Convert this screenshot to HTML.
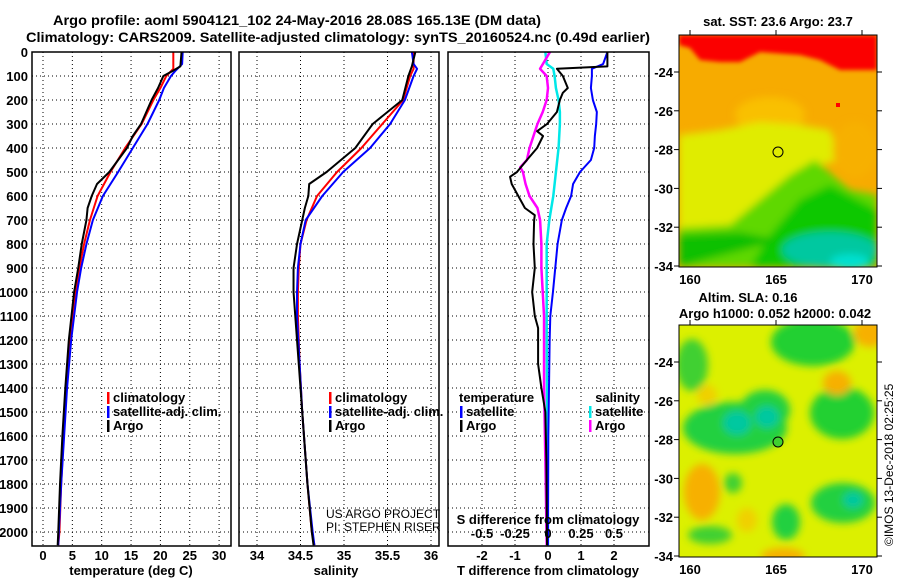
<!DOCTYPE html>
<html><head><meta charset="utf-8">
<style>
html,body{margin:0;padding:0;background:#fff;}
svg{display:block;font-family:"Liberation Sans",sans-serif;}
.t{font-weight:bold;font-size:13px;fill:#000;}
</style></head>
<body>
<svg id="fig" width="900" height="580" viewBox="0 0 900 580" xmlns="http://www.w3.org/2000/svg">
<defs>
<filter id="bl" x="-30%" y="-30%" width="160%" height="160%"><feGaussianBlur stdDeviation="4"/></filter>
<filter id="bl2" x="-30%" y="-30%" width="160%" height="160%"><feGaussianBlur stdDeviation="2"/></filter>
<clipPath id="c1"><rect x="679" y="35" width="198" height="232"/></clipPath>
<clipPath id="c2"><rect x="679" y="325" width="198" height="232"/></clipPath>
</defs>
<text x="53" y="25" style="font-weight:bold;font-size:14px" textLength="488" lengthAdjust="spacingAndGlyphs">Argo profile: aoml 5904121_102 24-May-2016 28.08S 165.13E (DM data)</text>
<text x="26" y="42" style="font-weight:bold;font-size:14px" textLength="624" lengthAdjust="spacingAndGlyphs">Climatology: CARS2009. Satellite-adjusted climatology: synTS_20160524.nc (0.49d earlier)</text>

<g id="plots"></g>

<!-- SST map -->
<g>
<g clip-path="url(#c1)">
<rect x="679" y="35" width="198" height="232" fill="#f7ab00"/>
<g filter="url(#bl2)">
<polygon points="679,35 877,35 877,70 840,70 820,60 800,55 760,52 740,62 720,62 700,60 690,48 679,45" fill="#fb0000"/>
</g>
<g filter="url(#bl)">
<ellipse cx="770" cy="115" rx="35" ry="18" fill="#f9c000"/>
<polygon points="679,135 720,130 760,122 800,125 830,130 840,160 820,165 800,175 780,190 760,210 730,225 679,228" fill="#e0ec00"/>
<polygon points="760,200 790,175 815,160 850,190 877,195 877,267 679,267 679,228 730,225" fill="#5fd800"/>
<polygon points="770,235 800,200 830,185 877,210 877,267 750,267" fill="#10c800"/>
<polygon points="679,235 740,232 780,240 679,267" fill="#10c000"/>
<ellipse cx="830" cy="250" rx="48" ry="18" fill="#00c8a0"/>
<ellipse cx="850" cy="262" rx="20" ry="8" fill="#00e0d0"/>
<ellipse cx="855" cy="150" rx="22" ry="28" fill="#f7b000"/>
</g>
<rect x="836" y="103" width="4" height="4" fill="#f00"/>
</g>
<rect x="679" y="35" width="198" height="232" fill="none" stroke="#000"/>
<circle cx="778" cy="152" r="5" fill="none" stroke="#000"/>
</g>

<!-- SLA map -->
<g>
<g clip-path="url(#c2)">
<rect x="679" y="325" width="198" height="232" fill="#dcf000"/>
<g filter="url(#bl)">
<ellipse cx="813" cy="342" rx="42" ry="24" fill="#20d030"/>
<ellipse cx="692" cy="365" rx="16" ry="26" fill="#40d030"/>
<ellipse cx="735" cy="428" rx="52" ry="26" fill="#20d040"/>
<ellipse cx="765" cy="410" rx="25" ry="20" fill="#20d040"/>
<ellipse cx="737" cy="423" rx="14" ry="12" fill="#00c8a0"/>
<ellipse cx="767" cy="417" rx="12" ry="11" fill="#00c8a0"/>
<ellipse cx="842" cy="413" rx="32" ry="26" fill="#20d030"/>
<ellipse cx="837" cy="383" rx="14" ry="12" fill="#f7b000"/>
<ellipse cx="870" cy="333" rx="16" ry="14" fill="#f7b000"/>
<ellipse cx="702" cy="492" rx="18" ry="28" fill="#f7b000"/>
<ellipse cx="843" cy="503" rx="32" ry="20" fill="#20d040"/>
<ellipse cx="853" cy="500" rx="10" ry="8" fill="#00c8a0"/>
<ellipse cx="786" cy="522" rx="14" ry="18" fill="#20d040"/>
<ellipse cx="710" cy="535" rx="22" ry="9" fill="#40d030"/>
<ellipse cx="733" cy="483" rx="9" ry="10" fill="#40d030"/>
<ellipse cx="783" cy="556" rx="22" ry="8" fill="#f7b000"/>
<ellipse cx="747" cy="520" rx="10" ry="12" fill="#f0d000"/>
<ellipse cx="707" cy="395" rx="10" ry="10" fill="#f0d000"/>
</g>
</g>
<rect x="679" y="325" width="198" height="232" fill="none" stroke="#000"/>
<circle cx="778" cy="442" r="5" fill="#40d030" stroke="#000"/>
</g>
<text class="t" x="778" y="26" text-anchor="middle">sat. SST: 23.6 Argo: 23.7</text>
<text class="t" x="748" y="302" text-anchor="middle">Altim. SLA: 0.16</text>
<text class="t" x="775" y="318" text-anchor="middle">Argo h1000: 0.052 h2000: 0.042</text>
<text x="0" y="0" style="font-size:12px" transform="translate(893,546) rotate(-90)">©IMOS 13-Dec-2018 02:25:25</text>
<g id="maps"></g>

<text x="326" y="518" style="font-size:12px">US ARGO PROJECT</text>
<text x="326" y="531" style="font-size:12px">PI: STEPHEN RISER</text>
</svg>
<script>
// ---- data ----
const tempClimDepth = [0,70,100,150,200,300,400,500,600,700,800,900,1000,1200,1400,1600,1800,2000,2055];
const tempClim      = [22.2,22.2,21,20,18.8,16.8,14,11.5,9.3,8,7,6.2,5.6,4.6,4,3.5,3.1,2.8,2.6];
const tempSatDepth  = [0,50,80,100,150,200,300,400,500,600,700,800,900,1000,1200,1400,1600,1800,2000,2055];
const tempSat       = [23.8,23.7,22.5,21.8,20.6,19.8,17.8,15.3,12.8,10.2,8.5,7.4,6.5,5.8,4.8,4.1,3.6,3.1,2.7,2.6];
const tempArgoDepth = [0,60,80,100,150,200,300,350,400,500,550,600,650,700,800,900,1000,1200,1400,1600,1800,2000,2055];
const tempArgo      = [23.6,23.4,22,20.5,19.6,18.5,16.7,15.3,14.3,11.3,9.2,8.3,7.6,7.4,6.6,6,5.3,4.4,3.8,3.3,2.9,2.6,2.5];
const salClimDepth  = [0,70,100,200,300,400,500,600,700,800,900,1000,1100,1300,1500,1800,2000,2055];
const salClim       = [35.8,35.8,35.76,35.68,35.44,35.2,34.92,34.69,34.57,34.5,34.48,34.47,34.47,34.49,34.52,34.58,34.63,34.66];
const salSatDepth   = [0,50,70,100,200,300,400,500,600,700,800,900,1000,1100,1300,1500,1800,2000,2055];
const salSat        = [35.78,35.8,35.84,35.8,35.7,35.53,35.3,34.99,34.75,34.56,34.5,34.47,34.46,34.46,34.49,34.52,34.58,34.64,34.66];
const salArgoDepth  = [0,60,100,200,300,400,500,550,600,650,700,800,900,1000,1100,1300,1500,1800,2000,2055];
const salArgo       = [35.82,35.78,35.74,35.67,35.33,35.13,34.8,34.6,34.59,34.55,34.52,34.46,34.42,34.42,34.44,34.48,34.52,34.58,34.63,34.65];
const dTSatDepth    = [0,50,70,100,150,200,250,300,350,400,450,500,550,600,650,700,800,900,1000,1100,1200,1400,1600,2055];
const dTSat         = [1.8,1.67,1.33,1.33,1.3,1.36,1.48,1.46,1.42,1.4,1.3,0.97,0.76,0.7,0.55,0.42,0.29,0.22,0.15,0.07,0.05,0.03,0.01,0];
const dTArgoDepth   = [0,60,70,100,150,170,200,250,300,330,350,400,450,500,520,550,600,650,680,700,800,900,1000,1100,1150,1300,1400,1500,1700,2055];
const dTArgo        = [1.8,1.8,0.27,0.45,0.6,0.45,0.36,0.27,-0.03,-0.33,-0.15,-0.33,-0.64,-0.94,-1.15,-1.1,-0.9,-0.7,-0.4,-0.42,-0.44,-0.4,-0.48,-0.4,-0.3,-0.3,-0.2,-0.08,-0.05,-0.03];
const dSSatDepth    = [0,50,70,100,150,200,250,300,400,450,500,600,700,800,900,1200,2055];
const dSSat         = [-0.02,-0.01,0.04,0.05,0.06,0.08,0.09,0.09,0.08,0.07,0.06,0.04,0.01,-0.01,-0.01,-0.01,0];
const dSArgoDepth   = [0,70,100,150,200,250,300,350,400,450,480,500,550,600,650,700,800,900,1000,1100,1400,1700,2055];
const dSArgo        = [0.015,-0.06,-0.01,0,-0.01,-0.04,-0.08,-0.11,-0.14,-0.16,-0.21,-0.19,-0.17,-0.14,-0.08,-0.06,-0.05,-0.05,-0.04,-0.03,-0.03,-0.02,-0.01];
const depthTicks    = [0,100,200,300,400,500,600,700,800,900,1000,1100,1200,1300,1400,1500,1600,1700,1800,1900,2000];
const tempTicks     = [0,5,10,15,20,25,30];
const salTicks      = [34,34.5,35,35.5,36];
const salTickLabels = ['34','34.5','35','35.5','36'];
const dTTicks       = [-2,-1,0,1,2];
const dSTicks       = [-0.5,-0.25,0,0.25,0.5];
const dSTickLabels  = ['-0.5','-0.25','0','0.25','0.5'];
const latTicks      = [-24,-26,-28,-30,-32,-34];
const lonTicks      = [160,165,170];

const NS='http://www.w3.org/2000/svg';
const plots=document.getElementById('plots');
function el(tag,attrs,parent,text){const e=document.createElementNS(NS,tag);for(const k in attrs)e.setAttribute(k,attrs[k]);if(text!==undefined)e.textContent=text;(parent||plots).appendChild(e);return e;}
const Y0=52, YS=0.24, YB=546;
const yD=d=>Y0+d*YS;
const xT=v=>43+v*5.87;
const xS=v=>257+(v-34)*87;
const xDT=v=>548+v*33;
const xDS=v=>548+v*132;
const panels=[{l:32,r:231},{l:239,r:439},{l:448,r:649}];

function grid(p,xs,fx){
  xs.forEach(v=>{const l=el('line',{x1:fx(v),x2:fx(v),y1:Y0,y2:YB,stroke:'#000','stroke-width':1,'stroke-dasharray':'1,3'});
    });
  depthTicks.forEach(d=>{const l=el('line',{x1:p.l,x2:p.r,y1:yD(d),y2:yD(d),stroke:'#000','stroke-width':1,'stroke-dasharray':'1,3'});
    });
}
grid(panels[0],tempTicks,xT);
grid(panels[1],salTicks,xS);
grid(panels[2],dTTicks,xDT);

function smooth(xs,ds,fx,color,w,name){
  const pts=xs.map((v,i)=>fx(v)+','+yD(ds[i])).join(' ');
  const pl=el('polyline',{points:pts,fill:'none',stroke:color,'stroke-width':w,'stroke-linejoin':'round'});
  
  
}
smooth(tempClim,tempClimDepth,xT,'#f00',2,'temperature-climatology-line');
smooth(tempSat,tempSatDepth,xT,'#00f',2,'temperature-satellite-line');
smooth(tempArgo,tempArgoDepth,xT,'#000',2,'temperature-argo-line');
smooth(salClim,salClimDepth,xS,'#f00',2,'salinity-climatology-line');
smooth(salSat,salSatDepth,xS,'#00f',2,'salinity-satellite-line');
smooth(salArgo,salArgoDepth,xS,'#000',2,'salinity-argo-line');
smooth(dSSat,dSSatDepth,xDS,'#00e8e8',2.5,'salinity-diff-satellite-line');
smooth(dSArgo,dSArgoDepth,xDS,'#f0f',2.5,'salinity-diff-argo-line');
smooth(dTSat,dTSatDepth,xDT,'#00f',2,'temperature-diff-satellite-line');
smooth(dTArgo,dTArgoDepth,xDT,'#000',2,'temperature-diff-argo-line');

panels.forEach((p,i)=>{const r=el('rect',{x:p.l,y:Y0,width:p.r-p.l,height:YB-Y0,fill:'none',stroke:'#000','stroke-width':1.5});
  });

depthTicks.forEach(d=>{const t=el('text',{x:28,y:yD(d)+5,'text-anchor':'end','class':'t'},plots,String(d));
  });
tempTicks.forEach(v=>{const t=el('text',{x:xT(v),y:560,'text-anchor':'middle','class':'t'},plots,String(v));
  });
salTicks.forEach((v,i)=>{const t=el('text',{x:xS(v),y:560,'text-anchor':'middle','class':'t'},plots,salTickLabels[i]);
  });
dTTicks.forEach(v=>{const t=el('text',{x:xDT(v),y:560,'text-anchor':'middle','class':'t'},plots,String(v));
  });
dSTicks.forEach((v,i)=>{const t=el('text',{x:xDS(v),y:538,'text-anchor':'middle','class':'t'},plots,dSTickLabels[i]);
  });

function txt(x,y,s,name,anchor){const t=el('text',{x:x,y:y,'class':'t','text-anchor':anchor||'start'},plots,s);
  return t;}
txt(131,575,'temperature (deg C)','x-axis-title-temperature','middle');
txt(336,575,'salinity','x-axis-title-salinity','middle');
txt(548,575,'T difference from climatology','x-axis-title-temp-diff','middle');
txt(548,524,'S difference from climatology','secondary-axis-title-sal-diff','middle');

function legend(x,y,color,label,name){
  const m=el('rect',{x:x,y:y-10,width:2.5,height:12,fill:color});
  
  txt(x+6,y,label,name);
}
legend(107,402,'#f00','climatology','legend-temp-climatology');
legend(107,416,'#00f','satellite-adj. clim.','legend-temp-satellite');
legend(107,430,'#000','Argo','legend-temp-argo');
legend(329,402,'#f00','climatology','legend-sal-climatology');
legend(329,416,'#00f','satellite-adj. clim.','legend-sal-satellite');
legend(329,430,'#000','Argo','legend-sal-argo');
txt(459,402,'temperature','legend-tdiff-title');
legend(460,416,'#00f','satellite','legend-tdiff-satellite');
legend(460,430,'#000','Argo','legend-tdiff-argo');
txt(640,402,'salinity','legend-sdiff-title','end');
legend(589,416,'#00e8e8','satellite','legend-sdiff-satellite');
legend(589,430,'#f0f','Argo','legend-sdiff-argo');

// map axes
const maps=document.getElementById('maps');
const mx=lon=>690+(lon-160)*17.2;
[{y0:72},{y0:362}].forEach((m,k)=>{
  const my=lat=>m.y0+(-24-lat)*19.4;
  latTicks.forEach(v=>{
    const t=el('text',{x:673,y:my(v)+5,'text-anchor':'end','class':'t'},maps,String(v));
    
    el('line',{x1:877,x2:882,y1:my(v),y2:my(v),stroke:'#000'},maps);
    el('line',{x1:674,x2:679,y1:my(v),y2:my(v),stroke:'#000'},maps);
  });
  const bottom=k===0?267:557;
  lonTicks.forEach(v=>{
    const t=el('text',{x:mx(v),y:bottom+17,'text-anchor':'middle','class':'t'},maps,String(v));
    
    el('line',{x1:mx(v),x2:mx(v),y1:bottom-232,y2:bottom-237,stroke:'#000'},maps);
  });
});
</script>
</body></html>
